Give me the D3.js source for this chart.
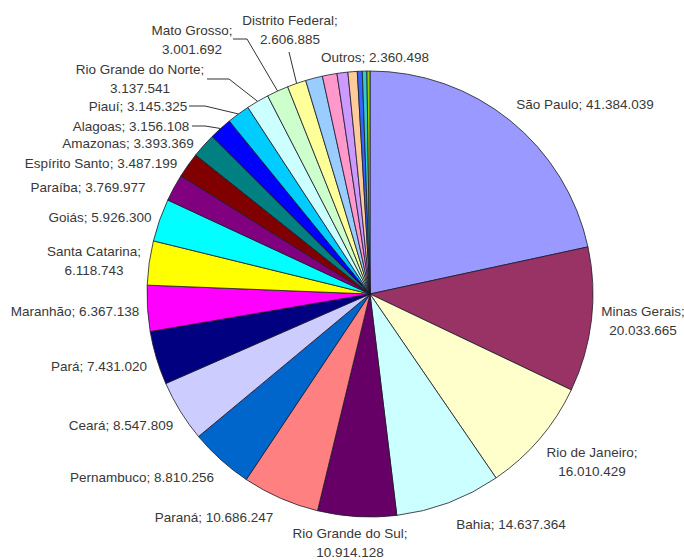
<!DOCTYPE html>
<html>
<head>
<meta charset="utf-8">
<script src="https://cdn.jsdelivr.net/npm/d3@7"></script>
<style>
  html, body { margin: 0; padding: 0; background: #fff; }
  svg { display: block; }
  text { font-family: "Liberation Sans", Arial, sans-serif; font-size: 13.5px; fill: #383838; }
</style>
</head>
<body>
<svg id="chart" width="684" height="560"></svg>
<script>
// População estimada por unidade da federação
const states = [
  "São Paulo", "Minas Gerais", "Rio de Janeiro", "Bahia", "Rio Grande do Sul",
  "Paraná", "Pernambuco", "Ceará", "Pará", "Maranhão", "Santa Catarina",
  "Goiás", "Paraíba", "Espírito Santo", "Amazonas", "Alagoas", "Piauí",
  "Rio Grande do Norte", "Mato Grosso", "Distrito Federal", "Outros",
  "Sergipe", "Rondônia", "Tocantins", "Acre", "Amapá", "Roraima"
];
const population = [
  41384039, 20033665, 16010429, 14637364, 10914128,
  10686247, 8810256, 8547809, 7431020, 6367138, 6118743,
  5926300, 3769977, 3487199, 3393369, 3156108, 3145325,
  3137541, 3001692, 2606885, 2360498,
  2019679, 1503928, 1292051, 691132, 626609, 421499
];
// Slices that carry a label (the smallest ones are left unlabeled)
const labelled = states.slice(0, 21);

const palette = [
  "#9999FF", "#993366", "#FFFFCC", "#CCFFFF", "#660066", "#FF8080",
  "#0066CC", "#CCCCFF", "#000080", "#FF00FF", "#FFFF00", "#00FFFF",
  "#800080", "#800000", "#008080", "#0000FF", "#00CCFF", "#CCFFFF",
  "#CCFFCC", "#FFFF99", "#99CCFF", "#FF99CC", "#CC99FF", "#FFCC99",
  "#3366FF", "#33CCCC", "#99CC00"
];

// Label placement: text centre relative to the pie centre, line breaks,
// and optional elbow points for leader lines.
const labelLayout = {
  "São Paulo":          { x: 215, y: -190, lines: 1 },
  "Minas Gerais":       { x: 273, y: 27, lines: 2 },
  "Rio de Janeiro":     { x: 222, y: 168, lines: 2 },
  "Bahia":              { x: 141, y: 230, lines: 1 },
  "Rio Grande do Sul":  { x: -20, y: 249, lines: 2 },
  "Paraná":             { x: -156, y: 223, lines: 1 },
  "Pernambuco":         { x: -228, y: 183, lines: 1 },
  "Ceará":              { x: -249, y: 131, lines: 1 },
  "Pará":               { x: -271, y: 72, lines: 1 },
  "Maranhão":           { x: -295, y: 17, lines: 1 },
  "Santa Catarina":     { x: -276, y: -33, lines: 2 },
  "Goiás":              { x: -270, y: -77, lines: 1 },
  "Paraíba":            { x: -282, y: -107, lines: 1 },
  "Espírito Santo":     { x: -269, y: -131, lines: 1 },
  "Amazonas":           { x: -242, y: -151, lines: 1 },
  "Alagoas":            { x: -239, y: -168, lines: 1, elbow: [[-178, -168], [-165, -168]] },
  "Piauí":              { x: -232, y: -188, lines: 1, elbow: [[-181, -188], [-165, -188]] },
  "Rio Grande do Norte":{ x: -230, y: -215, lines: 2, elbow: [[-163, -215], [-141, -215]] },
  "Mato Grosso":        { x: -178, y: -254, lines: 2, elbow: [[-137, -255], [-123, -255]] },
  "Distrito Federal":   { x: -80, y: -264, lines: 2, elbow: [[-81, -242]] },
  "Outros":             { x: 5, y: -237, lines: 1 }
};

const W = 684, H = 560;
const cx = 370, cy = 294, R = 223;
const fmt = d3.formatLocale({ decimal: ",", thousands: ".", grouping: [3] }).format(",d");

const data = states.map((name, i) => ({ name, value: population[i], color: palette[i] }));

const pie = d3.pie().sort(null).value(d => d.value).startAngle(0).endAngle(2 * Math.PI);
const arc = d3.arc().innerRadius(0).outerRadius(R);
const arcs = pie(data);

const svg = d3.select("#chart");
const g = svg.append("g").attr("transform", `translate(${cx},${cy})`);

g.selectAll("path.slice")
  .data(arcs)
  .join("path")
  .attr("class", "slice")
  .attr("d", arc)
  .attr("fill", d => d.data.color)
  .attr("stroke", "#1a1a2a")
  .attr("stroke-width", 0.8)
  .attr("stroke-linejoin", "round");

const labelArcs = arcs.filter(a => labelled.includes(a.data.name));

// Leader lines run from the label elbow to the outer edge at the slice's mid-angle
const leaders = labelArcs.filter(a => labelLayout[a.data.name].elbow);
g.selectAll("polyline.leader")
  .data(leaders)
  .join("polyline")
  .attr("class", "leader")
  .attr("fill", "none")
  .attr("stroke", "#333")
  .attr("stroke-width", 1)
  .attr("points", a => {
    const mid = (a.startAngle + a.endAngle) / 2;
    const edge = [R * Math.sin(mid), -R * Math.cos(mid)];
    return [...labelLayout[a.data.name].elbow, edge].map(p => p.join(",")).join(" ");
  });

const lineGap = 19;
const labels = g.selectAll("text.label")
  .data(labelArcs)
  .join("text")
  .attr("class", "label")
  .attr("text-anchor", "middle")
  .attr("x", a => labelLayout[a.data.name].x)
  .attr("y", a => labelLayout[a.data.name].y);

labels.each(function (a) {
  const L = labelLayout[a.data.name];
  const t = d3.select(this);
  const value = fmt(a.data.value);
  if (L.lines === 2) {
    t.append("tspan").attr("x", L.x).attr("y", L.y - lineGap / 2).attr("dy", "0.35em")
      .text(a.data.name + ";");
    t.append("tspan").attr("x", L.x).attr("y", L.y + lineGap / 2).attr("dy", "0.35em")
      .text(value);
  } else {
    t.append("tspan").attr("x", L.x).attr("y", L.y).attr("dy", "0.35em")
      .text(a.data.name + "; " + value);
  }
});
</script>
</body>
</html>
